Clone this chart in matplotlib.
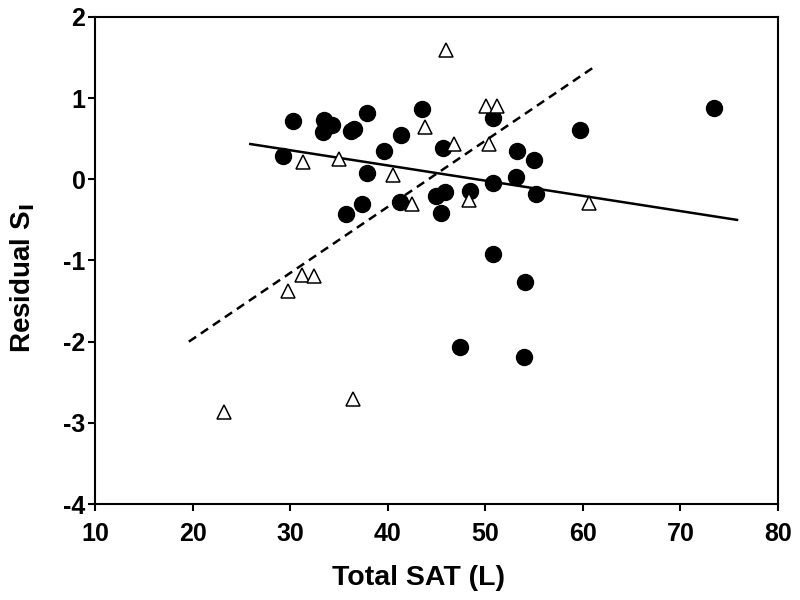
import matplotlib
matplotlib.use("Agg")
import matplotlib.pyplot as plt

# filled circles
circ_x = [29.3, 30.3, 33.5, 34.3, 33.4, 36.2, 36.5, 37.9, 43.5, 41.4, 39.6, 37.9,
          45.7, 50.8, 48.4, 44.9, 45.9, 45.4, 41.2, 37.4, 35.7, 50.8, 50.8, 73.4,
          59.7, 53.2, 55.0, 53.1, 55.2, 54.1, 47.4, 54.0]
circ_y = [0.29, 0.72, 0.73, 0.67, 0.58, 0.59, 0.62, 0.82, 0.87, 0.54, 0.35, 0.08,
          0.38, -0.05, -0.15, -0.20, -0.16, -0.41, -0.28, -0.31, -0.43, -0.92, 0.75, 0.88,
          0.61, 0.35, 0.24, 0.03, -0.18, -1.27, -2.06, -2.19]

# open triangles
tri_x = [46.0, 50.1, 51.2, 43.8, 46.8, 50.4, 31.3, 35.0, 40.5, 42.5, 48.3, 60.6,
         31.2, 32.4, 29.8, 23.2, 36.4]
tri_y = [1.59, 0.90, 0.90, 0.64, 0.43, 0.44, 0.21, 0.25, 0.05, -0.30, -0.25, -0.29,
         -1.18, -1.19, -1.38, -2.87, -2.71]

# regression lines (end points)
solid_x = [25.9, 75.8]
solid_y = [0.435, -0.50]
dash_x = [19.6, 61.1]
dash_y = [-2.00, 1.38]

xticks = [10, 20, 30, 40, 50, 60, 70, 80]
yticks = [-4, -3, -2, -1, 0, 1, 2]

plt.rcParams['font.family'] = ['Liberation Sans', 'DejaVu Sans']
plt.rcParams['font.weight'] = 'bold'
plt.rcParams['axes.unicode_minus'] = False

fig = plt.figure(figsize=(8, 6), dpi=100)
ax = fig.add_axes([0.119, 0.16, 0.8535, 0.8117])

ax.plot(solid_x, solid_y, color='black', lw=1.8, zorder=2)
ax.plot(dash_x, dash_y, color='black', lw=1.8, ls=(0, (3.5, 2.3)), zorder=2)
ax.plot(circ_x, circ_y, 'o', color='black', ms=11.5, mec='black', zorder=3)
ax.plot(tri_x, tri_y, '^', mfc='white', mec='black', ms=10, mew=1.1, zorder=4)

ax.set_xlim(10, 80)
ax.set_ylim(-4, 2)
ax.set_xticks(xticks)
ax.set_yticks(yticks)
for s in ax.spines.values():
    s.set_linewidth(1.5)
ax.tick_params(direction='out', length=5, width=1.5, labelsize=18)
ax.tick_params(axis='x', pad=8)
ax.tick_params(axis='y', pad=2)
ax.set_xlabel('Total SAT (L)', fontsize=20.5, fontweight='bold', va='center')
ax.set_ylabel('Residual S$_\\mathbf{I}$', fontsize=20, fontweight='bold', va='center')
ax.xaxis.set_label_coords(0.474, -0.152)
ax.yaxis.set_label_coords(-0.107, 0.464)

fig.savefig('out.png', dpi=100)
